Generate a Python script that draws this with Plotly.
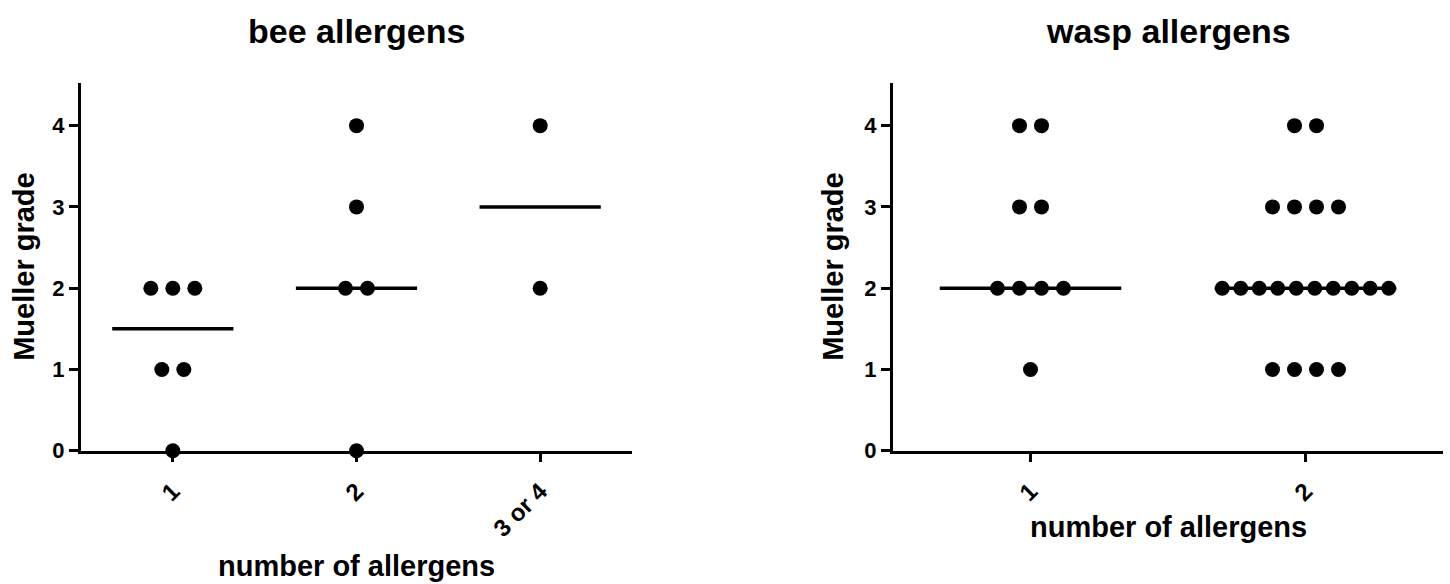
import plotly.graph_objects as go
import numpy as np

# ---------------- data ----------------
bee_categories = ["1", "2", "3 or 4"]
bee_1 = [2, 2, 2, 1, 1, 0]
bee_2 = [4, 3, 2, 2, 0]
bee_3_or_4 = [4, 2]

wasp_categories = ["1", "2"]
wasp_1 = [4, 4, 3, 3, 2, 2, 2, 2, 1]
wasp_2 = [4, 4, 3, 3, 3, 3, 2, 2, 2, 2, 2, 2, 2, 2, 2, 2, 1, 1, 1, 1]

y_ticks = [0, 1, 2, 3, 4]

# ---------------- layout constants ----------------
W, H = 1450, 584
FONT = "Liberation Sans, Arial, Helvetica, sans-serif"
left_px = (81, 632)
right_px = (893, 1443)
y_px = (83, 450.7)  # top, bottom
Y_RANGE = [0, 4.525]
DOT = 15
DOT_GAP = 22
HALF_LINE = 0.33


def dom(px):
    return [px[0] / W, px[1] / W]


y_domain = [(H - y_px[1]) / H, (H - y_px[0]) / H]


def swarm(values, center, px_per_unit):
    """Spread tied values horizontally like a scatter dot plot."""
    vals = np.asarray(values, dtype=float)
    xs = np.zeros_like(vals)
    line_px = 2 * HALF_LINE * px_per_unit
    for v in np.unique(vals):
        idx = np.where(vals == v)[0]
        n = len(idx)
        if n == 1:
            xs[idx] = center
            continue
        step = min(DOT_GAP, (line_px - DOT) / (n - 1))
        offs = (np.arange(n) - (n - 1) / 2) * step / px_per_unit
        xs[idx] = center + offs
    return xs


fig = go.Figure()


def add_panel(groups, xref, yref, px_per_unit):
    for i, vals in enumerate(groups):
        med = float(np.median(vals))
        fig.add_trace(go.Scatter(
            x=[i - HALF_LINE, i + HALF_LINE], y=[med, med], mode="lines",
            line=dict(color="black", width=3.5), xaxis=xref, yaxis=yref,
            showlegend=False, hoverinfo="skip"))
    for i, vals in enumerate(groups):
        fig.add_trace(go.Scatter(
            x=swarm(vals, i, px_per_unit), y=vals, mode="markers",
            marker=dict(color="black", size=DOT, line=dict(width=0)),
            xaxis=xref, yaxis=yref, cliponaxis=False, showlegend=False))


bee_ppu = (left_px[1] - left_px[0]) / 3.0
wasp_ppu = (right_px[1] - right_px[0]) / 2.0
add_panel([bee_1, bee_2, bee_3_or_4], "x", "y", bee_ppu)
add_panel([wasp_1, wasp_2], "x2", "y2", wasp_ppu)

ytickfont = dict(family=FONT, size=22, color="black", weight="bold")
xtickfont = dict(family=FONT, size=24, color="black", weight="bold")
common_x = dict(showline=True, linecolor="black", linewidth=3, ticks="outside",
                ticklen=8, tickwidth=3, tickcolor="black", showgrid=False,
                zeroline=False, tickangle=-45, tickfont=xtickfont,
                ticklabelstandoff=6, automargin=False,
                layer="below traces", fixedrange=True)
common_y = dict(showline=True, linecolor="black", linewidth=3, ticks="outside",
                ticklen=9, tickwidth=3, tickcolor="black", showgrid=False,
                zeroline=False, tickfont=ytickfont, range=Y_RANGE,
                tickvals=y_ticks, ticktext=[str(t) for t in y_ticks],
                domain=y_domain, automargin=False,
                layer="below traces", fixedrange=True)

fig.update_layout(
    width=W, height=H,
    margin=dict(l=0, r=0, t=0, b=0),
    paper_bgcolor="white", plot_bgcolor="white",
    font=dict(family=FONT, color="black"),
    xaxis=dict(domain=dom(left_px), range=[-0.5, 2.5],
               tickvals=list(range(len(bee_categories))), ticktext=bee_categories,
               anchor="y", **common_x),
    yaxis=dict(anchor="x", **common_y),
    xaxis2=dict(domain=dom(right_px), range=[-0.5, 1.5],
                tickvals=list(range(len(wasp_categories))), ticktext=wasp_categories,
                anchor="y2", **common_x),
    yaxis2=dict(anchor="x2", **common_y),
    showlegend=False,
)

title_font = dict(family=FONT, size=34, color="black", weight="bold")
axis_font = dict(family=FONT, size=29, color="black", weight="bold")
ymid = (H - (y_px[0] + y_px[1]) / 2) / H
annotations = [
    dict(text="bee allergens", x=(left_px[0] + left_px[1]) / 2 / W, y=(H - 31) / H,
         font=title_font),
    dict(text="wasp allergens", x=(right_px[0] + right_px[1]) / 2 / W, y=(H - 31) / H,
         font=title_font),
    dict(text="Mueller grade", x=24 / W, y=ymid, textangle=-90, font=axis_font),
    dict(text="Mueller grade", x=833 / W, y=ymid, textangle=-90, font=axis_font),
    dict(text="number of allergens", x=(left_px[0] + left_px[1]) / 2 / W,
         y=(H - 566) / H, font=axis_font),
    dict(text="number of allergens", x=(right_px[0] + right_px[1]) / 2 / W,
         y=(H - 527) / H, font=axis_font),
]
for a in annotations:
    a.update(xref="paper", yref="paper", showarrow=False, xanchor="center",
             yanchor="middle")
fig.update_layout(annotations=annotations)

fig.write_html("out.html",
               config={"displayModeBar": False, "staticPlot": True},
               post_script="document.body.style.margin='0px';"
                           "document.body.style.overflow='hidden';")
